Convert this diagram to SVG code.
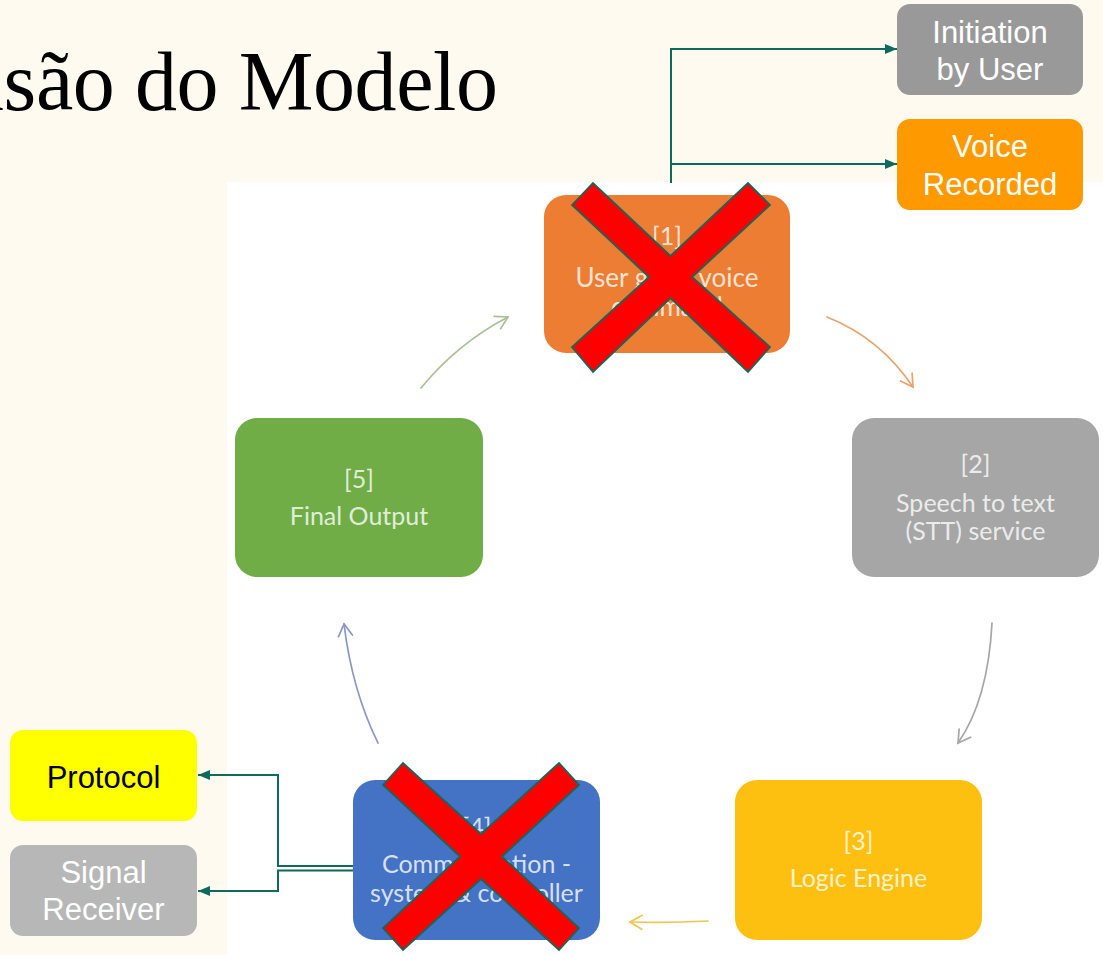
<svg xmlns="http://www.w3.org/2000/svg" width="1103" height="955" viewBox="0 0 1103 955">
  <style>
    .title { font-family: "Liberation Serif", "DejaVu Serif", serif; font-size: 84px; fill: #000; }
    .nt { font-family: Lato, "Noto Sans", sans-serif; font-size: 25px; fill: #ffffff; fill-opacity: 0.8; text-anchor: middle; }
    .st { font-family: "Liberation Sans", Arial, sans-serif; font-size: 31px; text-anchor: middle; }
    .conn { fill: none; stroke: #0E6B5C; stroke-width: 2; }
    .cyc { fill: none; stroke-width: 1.7; stroke-linecap: round; }
    .xmark { fill: #FF0000; stroke: #0E6B5C; stroke-width: 1.8; stroke-linejoin: miter; }
  </style>
  <defs>
    <marker id="tri" viewBox="0 0 12 10" refX="12" refY="5" markerWidth="12" markerHeight="10" markerUnits="userSpaceOnUse" orient="auto">
      <path d="M0,0 L12,5 L0,10 Z" fill="#0E6B5C"/>
    </marker>
    <marker id="vOr" viewBox="0 0 16 18" refX="14" refY="9" markerWidth="16" markerHeight="18" markerUnits="userSpaceOnUse" orient="auto">
      <path d="M2,2 L14,9 L2,16" fill="none" stroke="#E9A36B" stroke-width="1.7" stroke-linecap="round"/>
    </marker>
    <marker id="vGr" viewBox="0 0 16 18" refX="14" refY="9" markerWidth="16" markerHeight="18" markerUnits="userSpaceOnUse" orient="auto">
      <path d="M2,2 L14,9 L2,16" fill="none" stroke="#A6A6A6" stroke-width="1.7" stroke-linecap="round"/>
    </marker>
    <marker id="vYe" viewBox="0 0 16 18" refX="14" refY="9" markerWidth="16" markerHeight="18" markerUnits="userSpaceOnUse" orient="auto">
      <path d="M2,2 L14,9 L2,16" fill="none" stroke="#F3C44E" stroke-width="1.7" stroke-linecap="round"/>
    </marker>
    <marker id="vBl" viewBox="0 0 16 18" refX="14" refY="9" markerWidth="16" markerHeight="18" markerUnits="userSpaceOnUse" orient="auto">
      <path d="M2,2 L14,9 L2,16" fill="none" stroke="#8796C8" stroke-width="1.7" stroke-linecap="round"/>
    </marker>
    <marker id="vGn" viewBox="0 0 16 18" refX="14" refY="9" markerWidth="16" markerHeight="18" markerUnits="userSpaceOnUse" orient="auto">
      <path d="M2,2 L14,9 L2,16" fill="none" stroke="#A9C196" stroke-width="1.7" stroke-linecap="round"/>
    </marker>
  </defs>

  <!-- backgrounds -->
  <rect x="0" y="0" width="1103" height="955" fill="#FEFAF0"/>
  <rect x="227" y="182" width="876" height="773" fill="#FFFFFF"/>

  <text class="title" x="-38" y="110" textLength="536">nsão do Modelo</text>

  <!-- cycle arrows and connectors -->
  <g id="connectors">
    <path class="cyc" stroke="#E9A36B" d="M827,317 Q880,338 913,387" marker-end="url(#vOr)"/>
    <path class="cyc" stroke="#A6A6A6" d="M992,623 Q988,700 958,743" marker-end="url(#vGr)"/>
    <path class="cyc" stroke="#F3C44E" d="M708,921 Q670,923 630,922" marker-end="url(#vYe)"/>
    <path class="cyc" stroke="#8796C8" d="M378,743 Q352,690 344,624" marker-end="url(#vBl)"/>
    <path class="cyc" stroke="#A9C196" d="M421,388 Q458,343 508,317" marker-end="url(#vGn)"/>

    <path class="conn" d="M671,183 V49 H897" marker-end="url(#tri)"/>
    <path class="conn" d="M671,183 V164 H897" marker-end="url(#tri)"/>
    <path class="conn" d="M358,866 H278 V775 H198" marker-end="url(#tri)"/>
    <path class="conn" d="M358,870.5 H278 V891 H198" marker-end="url(#tri)"/>
  </g>

  <!-- main cycle nodes -->
  <g id="node1">
    <rect x="544" y="195" width="246" height="158" rx="22" fill="#EC7D33"/>
    <text class="nt" x="667" y="245">[1]</text>
    <text class="nt" x="667" y="287" style="font-size:26px">User gives voice</text>
    <text class="nt" x="667" y="316" style="font-size:26px">command</text>
  </g>
  <g id="node2">
    <rect x="852" y="418" width="247" height="159" rx="22" fill="#A6A6A6"/>
    <text class="nt" x="975.5" y="473">[2]</text>
    <text class="nt" x="975.5" y="512">Speech to text</text>
    <text class="nt" x="975.5" y="540">(STT) service</text>
  </g>
  <g id="node3">
    <rect x="735" y="780" width="247" height="160" rx="22" fill="#FDC010"/>
    <text class="nt" x="858.5" y="850">[3]</text>
    <text class="nt" x="858.5" y="887">Logic Engine</text>
  </g>
  <g id="node4">
    <rect x="353" y="780" width="247" height="160" rx="22" fill="#4472C4"/>
    <text class="nt" x="476.5" y="836">[4]</text>
    <text class="nt" x="476.5" y="873">Communication -</text>
    <text class="nt" x="476.5" y="902">system &amp; controller</text>
  </g>
  <g id="node5">
    <rect x="235" y="418" width="248" height="159" rx="22" fill="#70AD47"/>
    <text class="nt" x="359" y="488">[5]</text>
    <text class="nt" x="359" y="525">Final Output</text>
  </g>

  <!-- cross marks -->
  <g id="cross1">
    <polygon class="xmark" points="572,205 593,183 670.5,256 748,183 770,205 692,277 770,347 748,372 670.5,298 593,372 572,347 649,277"/>
  </g>
  <g id="cross4">
    <polygon class="xmark" points="383,785 403,763 481,834 559,763 579,785 502,856.5 579,928 559,950 481,879 403,950 383,928 460,856.5"/>
  </g>

  <!-- side nodes -->
  <g id="initiation">
    <rect x="897" y="4" width="186" height="91" rx="13" fill="#999999"/>
    <text class="st" x="990" y="43" fill="#FFFFFF">Initiation</text>
    <text class="st" x="990" y="80" fill="#FFFFFF">by User</text>
  </g>
  <g id="voice">
    <rect x="897" y="119" width="186" height="91" rx="13" fill="#FF9900"/>
    <text class="st" x="990" y="157" fill="#FFFFFF">Voice</text>
    <text class="st" x="990" y="195" fill="#FFFFFF">Recorded</text>
  </g>
  <g id="protocol">
    <rect x="10" y="730" width="187" height="91" rx="13" fill="#FFFF00"/>
    <text class="st" x="103.5" y="788" fill="#000000">Protocol</text>
  </g>
  <g id="signal">
    <rect x="10" y="845" width="187" height="91" rx="13" fill="#B7B7B7"/>
    <text class="st" x="103.5" y="883" fill="#FFFFFF">Signal</text>
    <text class="st" x="103.5" y="920" fill="#FFFFFF">Receiver</text>
  </g>
</svg>
